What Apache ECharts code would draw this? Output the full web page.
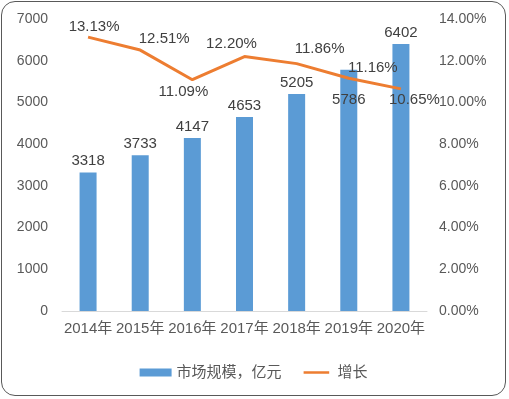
<!DOCTYPE html>
<html>
<head>
<meta charset="utf-8">
<script src="https://cdn.jsdelivr.net/npm/echarts@6/dist/echarts.min.js"></script>
<style>
html, body { margin: 0; padding: 0; background: #fff; }
#chart { position: absolute; left: 1px; top: 1px; width: 505px; height: 395px;
  border: 1.5px solid #595959; border-radius: 14px; box-sizing: border-box; }
</style>
</head>
<body>
<div id="chart"></div>
<script>
var years = ['2014年', '2015年', '2016年', '2017年', '2018年', '2019年', '2020年'];
var marketSize = [3318, 3733, 4147, 4653, 5205, 5786, 6402];
var growth = [13.13, 12.51, 11.09, 12.20, 11.86, 11.16, 10.65];
var growthLabelPos = ['top', 'top', 'bottom', 'top', 'top', 'top', 'right'];
var growthLabelShift = [[6, 2], [24, 1], [-9, 0], [-13, 0], [23, -2], [24, 2], [-17, 11]];

var font = 'Liberation Sans, Noto Sans CJK SC, sans-serif';
var myChart = echarts.init(document.getElementById('chart'));

var barData = marketSize.map(function(v, i) {
	var item = { value: v };
	if (i === 5) {
		item.label = { position: 'insideTop', offset: [0, 19] };
	}
	return item;
});
var lineData = growth.map(function(v, i) {
	return { value: v, label: { position: growthLabelPos[i], offset: growthLabelShift[i] } };
});

myChart.setOption({
	animation: false,
	textStyle: { fontFamily: font },
	grid: { left: 60, right: 78, top: 17, bottom: 84 },
	legend: {
		bottom: 10,
		itemGap: 22,
		textStyle: { color: '#595959', fontSize: 15, fontFamily: font },
		data: [
			{ name: '市场规模，亿元', icon: 'rect' },
			{ name: '增长', icon: 'path://M0,0L32,0L32,0.01Z M0,3.5L32,3.5L32,6.5L0,6.5Z M0,9.99L32,9.99L32,10Z' }
		],
		itemWidth: 32,
		itemHeight: 8
	},
	xAxis: {
		type: 'category',
		data: years,
		axisLine: { lineStyle: { color: '#d9d9d9' } },
		axisTick: { show: false },
		axisLabel: { color: '#595959', fontSize: 15, interval: 0, margin: 10 }
	},
	yAxis: [{
		type: 'value',
		min: 0, max: 7000, interval: 1000,
		splitLine: { show: false },
		axisLine: { show: false },
		axisTick: { show: false },
		axisLabel: {
			color: '#595959', fontSize: 14, margin: 14,
			formatter: function(v) { return String(v); }
		}
	}, {
		type: 'value',
		min: 0, max: 14, interval: 2,
		splitLine: { show: false },
		axisLine: { show: false },
		axisTick: { show: false },
		axisLabel: {
			color: '#595959', fontSize: 14, margin: 12,
			formatter: function(v) { return v.toFixed(2) + '%'; }
		}
	}],
	series: [{
		name: '市场规模，亿元',
		type: 'bar',
		data: barData,
		barWidth: 17,
		itemStyle: { color: '#5b9bd5' },
		label: { show: true, position: 'top', color: '#404040', fontSize: 15, distance: 4 }
	}, {
		name: '增长',
		type: 'line',
		yAxisIndex: 1,
		data: lineData,
		symbol: 'circle',
		symbolSize: 0.1,
		lineStyle: { color: '#ed7d31', width: 3 },
		itemStyle: { color: '#ed7d31' },
		label: {
			show: true, color: '#404040', fontSize: 15, distance: 5,
			formatter: function(p) { return p.value.toFixed(2) + '%'; }
		}
	}]
});
</script>
</body>
</html>
